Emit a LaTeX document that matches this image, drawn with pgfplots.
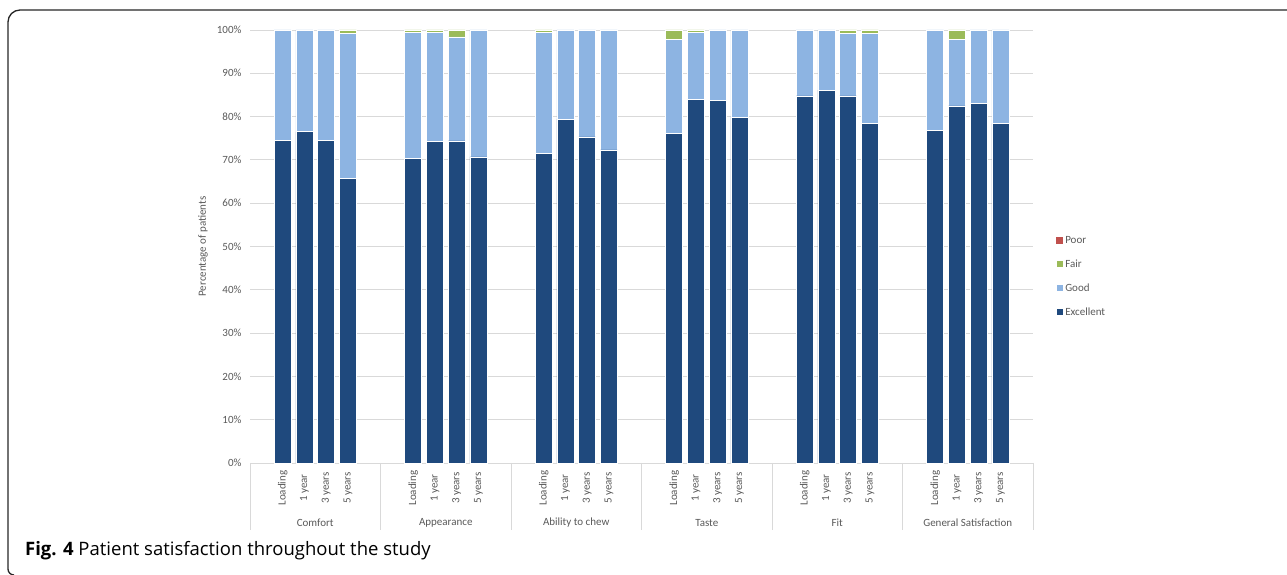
\documentclass[border=0pt]{standalone}
\usepackage{fontspec}
\setmainfont{Carlito}
\newfontfamily\capfont{Open Sans}
\usepackage{pgfplots}
\usepackage{pgfplotstable}
\pgfplotsset{compat=1.18}

\definecolor{cExc}{HTML}{1F497D}
\definecolor{cGood}{HTML}{8DB4E2}
\definecolor{cFair}{HTML}{9BBB59}
\definecolor{cPoor}{HTML}{C0504D}
\definecolor{cGrid}{HTML}{D9D9D9}
\definecolor{cText}{HTML}{595959}

% x: slot position (6 slots per group, bars in slots 1-4)
\pgfplotstableread{
x  exc   good  fair  poor
1  74.5  25.5  0.0   0
2  76.5  23.5  0.0   0
3  74.5  25.5  0.0   0
4  65.7  33.5  0.8   0
7  70.3  29.1  0.6   0
8  74.2  25.3  0.5   0
9  74.4  24.0  1.6   0
10 70.7  29.3  0.0   0
13 71.5  28.0  0.5   0
14 79.4  20.6  0.0   0
15 75.3  24.7  0.0   0
16 72.3  27.7  0.0   0
19 76.2  21.7  2.1   0
20 84.0  15.5  0.5   0
21 83.7  16.3  0.0   0
22 79.8  20.2  0.0   0
25 84.8  15.2  0.0   0
26 86.1  13.9  0.0   0
27 84.8  14.4  0.8   0
28 78.4  20.8  0.8   0
31 76.8  23.2  0.0   0
32 82.5  15.4  2.1   0
33 83.1  16.9  0.0   0
34 78.4  21.6  0.0   0
}\satdata

\begin{document}
\begin{tikzpicture}
  \useasboundingbox (0pt,0pt) rectangle (1287pt,575pt);
  % frame round the figure
  \draw[line width=1.3pt, black!85] (1287pt,565pt) -- (20pt,565pt)
    arc[start angle=90, end angle=180, radius=12pt] -- (8pt,6pt)
    arc[start angle=180, end angle=270, radius=6pt];
  \node[anchor=base west, inner sep=0pt] at (25pt,19pt)
    {\capfont\fontsize{18.5}{22}\selectfont\textbf{Fig. 4} Patient satisfaction throughout the study};

  \begin{axis}[
      at={(250pt,112pt)}, anchor=south west,
      scale only axis, width=783pt, height=433pt,
      ybar stacked, bar width=17pt,
      xmin=-0.5, xmax=35.5, ymin=0, ymax=100,
      axis line style={draw=none},
      ymajorgrids, grid style={cGrid, line width=0.8pt},
      ytick={0,10,...,100}, major tick length=0pt,
      yticklabel={\pgfmathprintnumber{\tick}\%},
      yticklabel style={xshift=-5pt},
      /pgf/number format/assume math mode=true,
      xtick={1,2,3,4,7,8,9,10,13,14,15,16,19,20,21,22,25,26,27,28,31,32,33,34},
      xticklabels={Loading,1 year,3 years,5 years,Loading,1 year,3 years,5 years,
                   Loading,1 year,3 years,5 years,Loading,1 year,3 years,5 years,
                   Loading,1 year,3 years,5 years,Loading,1 year,3 years,5 years},
      xticklabel style={yshift=-25pt, rotate=90, anchor=center},
      tick label style={font=\fontsize{11}{13}\selectfont, text=cText},
      clip=false,
      reverse legend,
      legend style={at={(1.025,0.533)}, anchor=north west, draw=none, fill=none,
        font=\fontsize{11}{13}\selectfont, text=cText, row sep=11pt,
        legend cell align=left},
      legend image code/.code={\fill[#1] (0pt,-3pt) rectangle (7pt,4pt);},
    ]
    \addplot[fill=cExc, draw=white, line width=0.5pt] table[x=x, y=exc] {\satdata};
    \addlegendentry{Excellent}
    \addplot[fill=cGood, draw=white, line width=0.5pt] table[x=x, y=good] {\satdata};
    \addlegendentry{Good}
    \addplot[fill=cFair, draw=white, line width=0.5pt] table[x=x, y=fair] {\satdata};
    \addlegendentry{Fair}
    \addplot[fill=cPoor, draw=none] table[x=x, y=poor] {\satdata};
    \addlegendentry{Poor}

    % group separators and names
    \pgfplotsinvokeforeach{-0.5,5.5,11.5,17.5,23.5,29.5,35.5}{
      \draw[cGrid, line width=0.8pt] (axis cs:#1,0) -- ++(0pt,-67pt);
    }
    \node[text=cText, font=\fontsize{11}{13}\selectfont, yshift=-60pt] at (axis cs:2.5,0) {Comfort};
    \node[text=cText, font=\fontsize{11}{13}\selectfont, yshift=-60pt] at (axis cs:8.5,0) {Appearance};
    \node[text=cText, font=\fontsize{11}{13}\selectfont, yshift=-60pt] at (axis cs:14.5,0) {Ability to chew};
    \node[text=cText, font=\fontsize{11}{13}\selectfont, yshift=-60pt] at (axis cs:20.5,0) {Taste};
    \node[text=cText, font=\fontsize{11}{13}\selectfont, yshift=-60pt] at (axis cs:26.5,0) {Fit};
    \node[text=cText, font=\fontsize{11}{13}\selectfont, yshift=-60pt] at (axis cs:32.5,0) {General Satisfaction};
    \node[rotate=90, text=cText, font=\fontsize{11}{13}\selectfont]
      at (axis description cs:-0.060,0.5) {Percentage of patients};
  \end{axis}
\end{tikzpicture}
\end{document}
